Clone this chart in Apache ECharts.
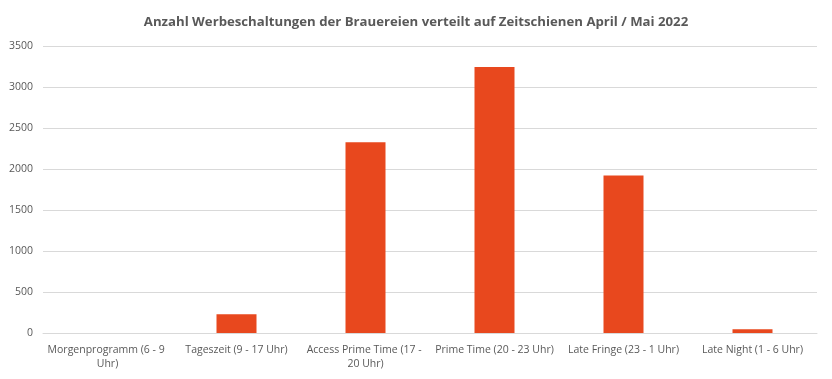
<!DOCTYPE html>
<html><head><meta charset="utf-8">
<script src="https://cdn.jsdelivr.net/npm/echarts@6/dist/echarts.min.js"></script>
<style>html,body{margin:0;padding:0;background:#fff}#c{width:832px;height:379px}</style>
</head><body><div id="c"></div>
<script>
const categories = ["Morgenprogramm (6 - 9 Uhr)", "Tageszeit (9 - 17 Uhr)", "Access Prime Time (17 - 20 Uhr)", "Prime Time (20 - 23 Uhr)", "Late Fringe (23 - 1 Uhr)", "Late Night (1 - 6 Uhr)"];
const values = [0, 230, 2325, 3243, 1921, 45];
const chart = echarts.init(document.getElementById('c'));
chart.setOption({
  animation: false,
  title: {
    text: 'Anzahl Werbeschaltungen der Brauereien verteilt auf Zeitschienen April / Mai 2022',
    left: 'center', top: 11,
    textStyle: {fontFamily: 'Open Sans', fontSize: 13.2, fontWeight: 'bold', color: '#595959'}
  },
  grid: {left: 43, right: 15, top: 46, bottom: 46},
  xAxis: {
    type: 'category', data: categories,
    axisLine: {lineStyle: {color: '#d9d9d9'}},
    axisTick: {show: false},
    axisLabel: {interval: 0, width: 122, overflow: 'break', fontFamily: 'Open Sans', fontSize: 10.5, color: '#595959', lineHeight: 14, margin: 10}
  },
  yAxis: {
    type: 'value', min: 0, max: 3500, interval: 500,
    splitLine: {lineStyle: {color: '#d9d9d9'}},
    axisLabel: {fontFamily: 'Open Sans', fontSize: 10.5, color: '#595959', margin: 10, formatter: v => String(v)}
  },
  series: [{type: 'bar', data: values, barWidth: 40, itemStyle: {color: '#E8481E'}}]
});
</script></body></html>
